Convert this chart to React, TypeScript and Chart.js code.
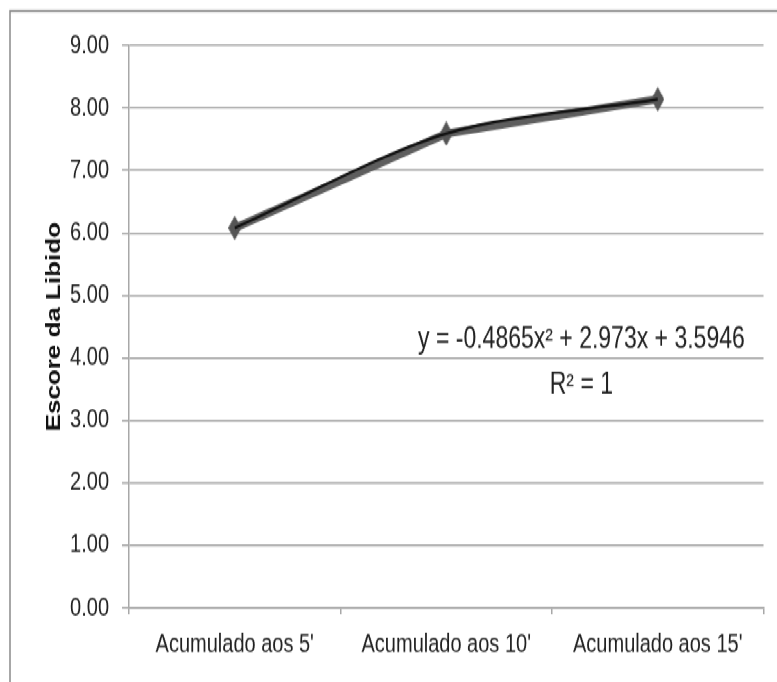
import React, { useEffect, useRef } from "react";
import { Chart, registerables } from "chart.js";

Chart.register(...registerables);

const categories = ["Acumulado aos 5'", "Acumulado aos 10'", "Acumulado aos 15'"];
const libidoScores = [6.08, 7.59, 8.14];
const yMin = 0;
const yMax = 9;
const yStep = 1;
const yAxisTitle = "Escore da Libido";
const trendEquation = "y = -0.4865x\u00B2 + 2.973x + 3.5946";
const trendR2 = "R\u00B2 = 1";

// The reference is stretched vertically; draw at a lower height and stretch.
const W = 777;
const H_OUT = 682;
const H = 525;
const STRETCH = H_OUT / H;

const FONT = "'Liberation Sans', Arial, sans-serif";
const TEXT = "#222222";
const GRID = "#a8a8a8";

function makeDiamond(w: number, h: number, color: string): HTMLCanvasElement {
  const c = document.createElement("canvas");
  c.width = w;
  c.height = h;
  const g = c.getContext("2d")!;
  g.fillStyle = color;
  g.beginPath();
  g.moveTo(w / 2, 0);
  g.lineTo(w, h / 2);
  g.lineTo(w / 2, h);
  g.lineTo(0, h / 2);
  g.closePath();
  g.fill();
  return c;
}

const decorPlugin = {
  id: "decor",
  beforeDraw(chart: any) {
    const ctx = chart.ctx;
    ctx.save();
    ctx.strokeStyle = "#8a8a8a";
    ctx.lineWidth = 1.5;
    ctx.beginPath();
    ctx.moveTo(10, chart.height);
    ctx.lineTo(10, 8.5);
    ctx.lineTo(chart.width, 8.5);
    ctx.stroke();
    ctx.restore();
  },
  afterDraw(chart: any) {
    const ctx = chart.ctx;
    const a = chart.chartArea;
    ctx.save();
    ctx.font = `23px ${FONT}`;
    ctx.fillStyle = TEXT;
    ctx.textAlign = "center";
    ctx.textBaseline = "middle";
    const cx = a.left + (a.right - a.left) * 0.713;
    const cy1 = a.top + (a.bottom - a.top) * 0.524;
    const cy2 = a.top + (a.bottom - a.top) * 0.605;
    ctx.fillText(trendEquation, cx, cy1);
    ctx.fillText(trendR2, cx, cy2);
    ctx.restore();
  },
};

export default function App() {
  const canvasRef = useRef<HTMLCanvasElement | null>(null);

  useEffect(() => {
    const canvas = canvasRef.current;
    if (!canvas) return;
    const diamond = makeDiamond(13, 19, "#555555");
    const chart = new Chart(canvas, {
      type: "line",
      data: {
        labels: categories,
        datasets: [
          {
            label: "Tendência",
            data: libidoScores,
            borderColor: "#111111",
            borderWidth: 2.2,
            tension: 0.3,
            pointRadius: 0,
            fill: false,
            order: 0,
          },
          {
            label: "Escore",
            data: libidoScores,
            borderColor: "#5e5e5e",
            borderWidth: 6.5,
            tension: 0,
            pointStyle: diamond,
            pointRadius: 7,
            fill: false,
            order: 1,
          },
        ],
      },
      options: {
        responsive: false,
        animation: false,
        devicePixelRatio: 1,
        layout: { padding: { left: 42, top: 35, right: 11, bottom: 12 } },
        plugins: {
          legend: { display: false },
          tooltip: { enabled: false },
        },
        scales: {
          x: {
            type: "category",
            offset: true,
            grid: {
              offset: true,
              drawOnChartArea: false,
              drawTicks: true,
              tickLength: 5,
              color: GRID,
              lineWidth: 1.5,
            },
            border: { display: true, color: GRID, width: 1.5 },
            ticks: {
              color: TEXT,
              font: { family: FONT, size: 20 },
              padding: 11,
              maxRotation: 0,
              autoSkip: false,
            },
            afterFit(scale: any) {
              scale.height = 45;
              scale.paddingLeft = 0;
              scale.paddingRight = 0;
            },
          },
          y: {
            min: yMin,
            max: yMax,
            title: {
              display: true,
              text: yAxisTitle,
              color: "#111",
              font: { family: FONT, size: 20, weight: "bold" },
              padding: 0,
            },
            grid: {
              color: GRID,
              lineWidth: 1.5,
              drawTicks: true,
              tickLength: 7,
            },
            border: { display: true, color: GRID, width: 1.5 },
            ticks: {
              stepSize: yStep,
              color: TEXT,
              font: { family: FONT, size: 20 },
              padding: 13,
              callback: (v: any) => Number(v).toFixed(2),
            },
            afterFit(scale: any) {
              scale.width = 87;
              scale.paddingTop = 0;
              scale.paddingBottom = 0;
            },
          },
        },
      },
      plugins: [decorPlugin],
    });
    return () => chart.destroy();
  }, []);

  return (
    <div
      style={{
        position: "fixed",
        left: 0,
        top: 0,
        width: W,
        height: H,
        background: "#fff",
        transform: `scaleY(${STRETCH})`,
        transformOrigin: "0 0",
      }}
    >
      <canvas ref={canvasRef} width={W} height={H} />
    </div>
  );
}
